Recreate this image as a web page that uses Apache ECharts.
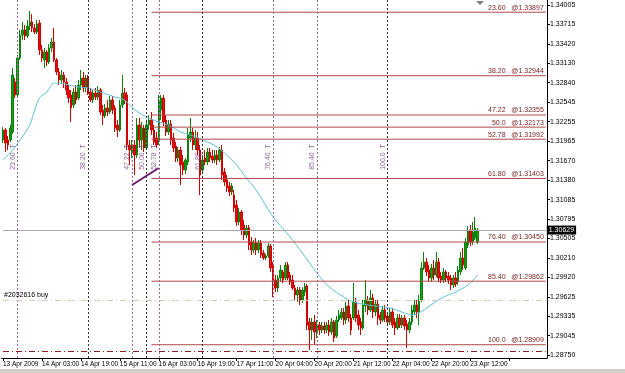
<!DOCTYPE html>
<html><head><meta charset="utf-8">
<script src="https://cdn.jsdelivr.net/npm/echarts@6/dist/echarts.min.js"></script>
<style>html,body{margin:0;padding:0;background:#fff}#c{width:625px;height:373px}</style>
</head><body><div id="c"></div>
<script>
// ---------- data ----------
const xTickLabels = ["13 Apr 2009","14 Apr 03:00","14 Apr 19:00","15 Apr 11:00","16 Apr 03:00","16 Apr 19:00","17 Apr 11:00","20 Apr 04:00","20 Apr 20:00","21 Apr 12:00","22 Apr 04:00","22 Apr 20:00","23 Apr 12:00"];
const yTickLabels = [1.34005,1.33715,1.33420,1.33130,1.32840,1.32545,1.32255,1.31965,1.31670,1.31380,1.31085,1.30795,1.30505,1.30210,1.29920,1.29625,1.29335,1.29045,1.28750];

const opens = [
1.31980,1.32130,1.31980,1.31980,1.32100,1.32850,1.32655,1.33210,1.33555,1.33630,
1.33540,1.33690,1.33750,1.33660,1.33600,1.33735,1.33330,1.33180,1.33300,1.33150,
1.33360,1.33450,1.33180,1.33000,1.32880,1.32955,1.32850,1.32730,1.32655,1.32505,
1.32700,1.32610,1.32805,1.32910,1.32760,1.32910,1.32700,1.32580,1.32685,1.32625,
1.32730,1.32430,1.32340,1.32460,1.32400,1.32580,1.32460,1.32205,1.32130,1.32505,
1.32685,1.32655,1.31905,1.31800,1.31905,1.31755,1.32205,1.31980,1.32160,1.31860,
1.32205,1.32280,1.32130,1.32010,1.31980,1.32430,1.32610,1.32280,1.32100,1.32220,
1.32010,1.31890,1.31710,1.31830,1.31650,1.31530,1.31650,1.32010,1.32100,1.31905,
1.32010,1.31830,1.31530,1.31710,1.31650,1.31800,1.31740,1.31680,1.31755,1.31680,
1.31830,1.31500,1.31380,1.31290,1.31200,1.31155,1.31005,1.30750,1.30900,1.30705,
1.30555,1.30660,1.30450,1.30330,1.30435,1.30330,1.30435,1.30285,1.30210,1.30240,
1.30390,1.30105,1.29880,1.29760,1.29910,1.30000,1.29910,1.30105,1.29955,1.29880,
1.29760,1.29655,1.29730,1.29580,1.29700,1.29790,1.29250,1.29130,1.29250,1.29100,
1.29205,1.29130,1.29190,1.29130,1.29205,1.29100,1.29250,1.29040,1.29280,1.29310,
1.29400,1.29280,1.29490,1.29310,1.29310,1.29550,1.29355,1.29250,1.29160,1.29490,
1.29580,1.29430,1.29610,1.29400,1.29520,1.29355,1.29280,1.29430,1.29340,1.29250,
1.29400,1.29250,1.29160,1.29310,1.29205,1.29310,1.29220,1.29130,1.29250,1.29400,
1.29505,1.29400,1.29580,1.30060,1.30150,1.30030,1.29910,1.30060,1.29955,1.30150,
1.29940,1.29880,1.30000,1.29940,1.29910,1.29805,1.29910,1.29850,1.30000,1.30210,
1.30060,1.30405,1.30630,1.30450,1.30510,1.30450];
const closes = [
1.32130,1.31935,1.31905,1.32160,1.32955,1.32655,1.33210,1.33555,1.33630,1.33540,
1.33690,1.33750,1.33660,1.33600,1.33720,1.33330,1.33210,1.33300,1.33150,1.33360,
1.33450,1.33180,1.33000,1.32880,1.32955,1.32850,1.32730,1.32610,1.32460,1.32700,
1.32580,1.32805,1.32910,1.32760,1.32910,1.32700,1.32580,1.32685,1.32625,1.32730,
1.32400,1.32340,1.32460,1.32400,1.32580,1.32430,1.32160,1.32130,1.32505,1.32685,
1.32580,1.31905,1.31830,1.31905,1.31755,1.32205,1.31980,1.32160,1.31860,1.32205,
1.32280,1.32130,1.31950,1.31905,1.32580,1.32610,1.32250,1.32100,1.32220,1.31980,
1.31860,1.31710,1.31830,1.31605,1.31530,1.31680,1.32055,1.32100,1.31905,1.32010,
1.31830,1.31455,1.31680,1.31650,1.31800,1.31710,1.31680,1.31755,1.31680,1.31830,
1.31455,1.31350,1.31260,1.31200,1.31290,1.30960,1.30750,1.30900,1.30630,1.30555,
1.30660,1.30405,1.30330,1.30435,1.30330,1.30435,1.30255,1.30210,1.30240,1.30390,
1.30060,1.29850,1.29760,1.29910,1.30030,1.29880,1.30105,1.29910,1.29850,1.29760,
1.29655,1.29730,1.29580,1.29730,1.29790,1.29205,1.29130,1.29250,1.29100,1.29205,
1.29130,1.29190,1.29130,1.29205,1.29100,1.29250,1.29010,1.29280,1.29355,1.29400,
1.29280,1.29490,1.29310,1.29130,1.29550,1.29310,1.29205,1.29160,1.29505,1.29580,
1.29430,1.29610,1.29400,1.29520,1.29310,1.29280,1.29430,1.29310,1.29250,1.29400,
1.29205,1.29160,1.29310,1.29205,1.29310,1.29190,1.29130,1.29250,1.29430,1.29505,
1.29400,1.29580,1.30060,1.30150,1.30000,1.29910,1.30060,1.29955,1.30150,1.29910,
1.29880,1.30000,1.29910,1.29880,1.29805,1.29910,1.29820,1.30030,1.30210,1.30105,
1.30450,1.30630,1.30450,1.30600,1.30660,1.30629];
const lows = [
1.31935,1.31800,1.31830,1.31950,1.32070,1.32610,1.32625,1.33180,1.33480,1.33480,
1.33510,1.33630,1.33600,1.33570,1.33570,1.33255,1.33150,1.33060,1.33090,1.33120,
1.33300,1.33150,1.32955,1.32805,1.32820,1.32760,1.32655,1.32535,1.32250,1.32460,
1.32520,1.32580,1.32730,1.32700,1.32700,1.32655,1.32550,1.32535,1.32580,1.32580,
1.32355,1.32205,1.32310,1.32340,1.32370,1.32370,1.32100,1.32025,1.32100,1.32460,
1.32520,1.31830,1.31605,1.31710,1.31455,1.31710,1.31860,1.31830,1.31800,1.31830,
1.32130,1.32055,1.31905,1.31860,1.31905,1.32280,1.32190,1.32040,1.32055,1.31905,
1.31800,1.31650,1.31650,1.31305,1.31455,1.31470,1.31605,1.31950,1.31830,1.31830,
1.31755,1.31155,1.31500,1.31605,1.31605,1.31650,1.31635,1.31635,1.31605,1.31650,
1.31380,1.31290,1.31200,1.31140,1.31155,1.30900,1.30690,1.30705,1.30555,1.30480,
1.30510,1.30330,1.30255,1.30285,1.30255,1.30285,1.30210,1.30180,1.30180,1.30210,
1.30000,1.29625,1.29700,1.29700,1.29850,1.29835,1.29880,1.29880,1.29805,1.29730,
1.29580,1.29550,1.29505,1.29535,1.29640,1.29130,1.28830,1.28980,1.28905,1.29010,
1.29055,1.29085,1.29070,1.29085,1.29040,1.29055,1.28950,1.29010,1.29250,1.29280,
1.29205,1.29220,1.29250,1.29055,1.29280,1.29250,1.29130,1.29055,1.29130,1.29400,
1.29355,1.29400,1.29310,1.29340,1.29205,1.29220,1.29250,1.29250,1.29190,1.29205,
1.29160,1.29055,1.29130,1.29160,1.29160,1.29130,1.28860,1.29085,1.29205,1.29355,
1.29310,1.29205,1.29550,1.30030,1.29940,1.29850,1.29850,1.29880,1.29925,1.29850,
1.29835,1.29835,1.29850,1.29820,1.29730,1.29760,1.29775,1.29805,1.29955,1.30030,
1.30030,1.30360,1.30390,1.30405,1.30480,1.30420];
const highs = [
1.32175,1.32160,1.32040,1.32205,1.33060,1.32910,1.33255,1.33630,1.33750,1.33705,
1.33780,1.33915,1.33870,1.33720,1.33780,1.33780,1.33405,1.33360,1.33330,1.33420,
1.33510,1.33660,1.33210,1.33060,1.33030,1.33000,1.32910,1.32805,1.32730,1.32760,
1.32805,1.32880,1.33030,1.33000,1.32955,1.32955,1.32760,1.32730,1.32760,1.32790,
1.32760,1.32505,1.32520,1.32580,1.32640,1.32640,1.32505,1.32280,1.32580,1.32955,
1.32760,1.32700,1.31980,1.31980,1.31980,1.32310,1.32310,1.32250,1.32205,1.32280,
1.32355,1.32400,1.32205,1.32100,1.32655,1.32655,1.32655,1.32355,1.32280,1.32280,
1.32085,1.31950,1.31875,1.31875,1.31755,1.31710,1.32160,1.32310,1.32160,1.32130,
1.32100,1.31905,1.31755,1.31830,1.31860,1.31860,1.31830,1.31830,1.31830,1.31875,
1.31905,1.31560,1.31455,1.31350,1.31335,1.31230,1.31080,1.30960,1.30930,1.30780,
1.30705,1.30705,1.30525,1.30480,1.30510,1.30480,1.30480,1.30330,1.30270,1.30435,
1.30420,1.30150,1.29955,1.29955,1.30105,1.30030,1.30150,1.30150,1.30000,1.29955,
1.29805,1.29775,1.29775,1.29775,1.29835,1.29820,1.29310,1.29310,1.29355,1.29280,
1.29250,1.29250,1.29250,1.29250,1.29280,1.29310,1.29280,1.29340,1.29430,1.29460,
1.29460,1.29550,1.29580,1.29370,1.29835,1.29610,1.29430,1.29310,1.29580,1.29880,
1.29640,1.29730,1.29670,1.29580,1.29580,1.29400,1.29490,1.29505,1.29400,1.29460,
1.29460,1.29310,1.29370,1.29370,1.29355,1.29355,1.29280,1.29310,1.29505,1.29580,
1.29580,1.29655,1.30150,1.30300,1.30210,1.30105,1.30120,1.30180,1.30300,1.30210,
1.30000,1.30060,1.30030,1.30000,1.29955,1.29955,1.30000,1.30090,1.30300,1.30360,
1.30510,1.30690,1.30705,1.30750,1.30825,1.30660];

// moving average, read at bar positions [barIndex, price]
const maIndex = [0,4,7,11,13,15,18,21,24,27,31,35,40,46,50,52,56,60,64,68,73,77,82,88,94,96,100,104,111,118,123,129,134,140,144,150,159,165,168,170,173,177,181,186,191,195];
const maValue = [1.31680,1.31830,1.31980,1.32205,1.32430,1.32610,1.32700,1.32835,1.32835,1.32805,1.32775,1.32760,1.32700,1.32625,1.32580,1.32505,1.32385,1.32310,1.32250,1.32205,1.32100,1.32055,1.31980,1.31875,1.31680,1.31605,1.31410,1.31230,1.30825,1.30525,1.30285,1.29985,1.29775,1.29625,1.29550,1.29505,1.29460,1.29385,1.29355,1.29370,1.29430,1.29535,1.29625,1.29700,1.29805,1.29955];

// fibonacci retracement levels
const fibNames  = ["23.60","38.20","47.22","50.0","52.78","61.80","76.40","85.40","100.0"];
const fibPrices = [1.33897,1.32944,1.32355,1.32173,1.31992,1.31403,1.30450,1.29862,1.28909];
const fibStartBar = 61;
// fibonacci time zones
const timeNames = ["23.60","38.20","47.22","50.00","52.78","61.80","76.40","85.40","100.0"];
const timeBars  = [6,35,53,58.5,64,82,111,129,158];
const timeDark  = [false,true,false,true,false,true,false,false,true];
// other lines
const bidPrice = 1.30629;
const orderPrice = 1.29580;
const orderText = "#2032616 buy";
const stopPrice = 1.28815;
const trendBars = [53,64];
const trendPrices = [1.31305,1.31560];

const totalSlots = 224;

// ---------- build ----------
const cats = Array.from({length: totalSlots}, (_, i) => String(i));
const candles = opens.map((o, i) => [o, closes[i], lows[i], highs[i]]);
const maData = maIndex.map((b, i) => [b, maValue[i]]);
const lastBar = totalSlots - 1;
const FONT = 'Liberation Sans';
const fibLine = '#b04848';
const fibText = '#7a2424';

// one line series per fibonacci level, drawn through the axes
const fibSeries = fibNames.map((n, k) => ({
  type: 'line', name: 'fib' + n, silent: true, z: 4,
  data: [[fibStartBar, fibPrices[k]], [lastBar, fibPrices[k]]],
  showSymbol: false, symbol: 'none',
  lineStyle: {color: fibLine, width: 1, type: 'solid'},
  endLabel: {show: true, formatter: n + '   @' + fibPrices[k].toFixed(5), color: fibText, fontSize: 7, fontFamily: FONT,
    align: 'right', verticalAlign: 'bottom', offset: [-2, -1], distance: 0}
}));

function seg(a, b, style, label) {
  return [
    {coord: a, lineStyle: style, label: label || {show: false}},
    {coord: b, lineStyle: style, label: label || {show: false}}
  ];
}

const markData = [];
timeBars.forEach((b, k) => {
  markData.push({xAxis: b, lineStyle: {color: timeDark[k] ? '#3a303a' : '#9a6a9a', width: 1, type: [2, 2], opacity: 1}, label: {show: false}});
});
markData.push(seg([0, bidPrice], [lastBar, bidPrice], {color: '#a8a8a8', width: 1, type: 'solid', opacity: 1},
  {show: true, position: 'end', formatter: bidPrice.toFixed(5), color: '#fff', backgroundColor: '#000', fontSize: 7, fontFamily: FONT, padding: [1, 2], distance: 1}));
markData.push(seg([0, orderPrice], [lastBar, orderPrice], {color: '#cfcfb8', width: 1, type: [6, 3, 1, 3], opacity: 1},
  {show: true, position: 'insideStartTop', formatter: orderText, color: '#000', fontSize: 7, fontFamily: FONT, distance: 1}));
markData.push(seg([0, stopPrice], [lastBar, stopPrice], {color: '#8b2020', width: 1, type: [6, 3, 1, 3], opacity: 1}));
markData.push(seg([trendBars[0], trendPrices[0]], [trendBars[1], trendPrices[1]], {color: '#6a1a6a', width: 2, type: 'solid', opacity: 1}));

const timeLabelData = timeBars.map((b, k) => ({value: [b - 1.6, 1.31725], name: timeNames[k]}));

const chart = echarts.init(document.getElementById('c'), null, {renderer: 'canvas'});
chart.setOption({
  animation: false,
  backgroundColor: '#ffffff',
  grid: {left: 0, right: 78, top: 0, bottom: 15, containLabel: false},
  xAxis: {
    type: 'category', data: cats, boundaryGap: true,
    axisLine: {show: true, lineStyle: {color: '#000', width: 1}},
    axisTick: {show: true, alignWithLabel: true, length: 3, interval: (i) => i % 16 === 0, lineStyle: {color: '#000'}},
    axisLabel: {show: true, interval: (i) => i % 16 === 0, align: 'left', margin: 3, fontSize: 6.5, fontFamily: FONT, color: '#000',
      formatter: (v, i) => (i % 16 === 0 && xTickLabels[i / 16]) ? xTickLabels[i / 16] : ''},
    splitLine: {show: false}
  },
  yAxis: {
    type: 'value', position: 'right', min: 1.28710, max: 1.34080, scale: true,
    axisLine: {show: true, lineStyle: {color: '#000', width: 1}},
    axisTick: {show: true, length: 3, customValues: yTickLabels, lineStyle: {color: '#000'}},
    axisLabel: {show: true, customValues: yTickLabels, margin: 3, fontSize: 7, fontFamily: FONT, color: '#000', formatter: (v) => v.toFixed(5)},
    splitLine: {show: false}
  },
  series: [
    {
      type: 'candlestick', data: candles, barWidth: 2, z: 2,
      itemStyle: {color: '#10a010', color0: '#e01010', borderColor: '#108010', borderColor0: '#d00000', borderWidth: 1}
    },
    {
      type: 'line', data: maData, showSymbol: false, symbol: 'none', smooth: 0.3,
      lineStyle: {color: '#5fc0d8', width: 1}, z: 3,
      markLine: {symbol: 'none', silent: true, animation: false, data: markData}
    },
    {
      type: 'scatter', data: timeLabelData, symbolSize: 0, silent: true,
      label: {show: true, position: 'inside', rotate: 90, formatter: (p) => p.name + '  T', color: '#6a3a7a', fontSize: 7, fontFamily: FONT}
    }
  ].concat(fibSeries),
  graphic: [
    {type: 'rect', shape: {x: 0, y: 369, width: 625, height: 4}, style: {fill: '#d4d0c8'}},
    {type: 'polygon', shape: {points: [[476, 1], [484, 1], [480, 5]]}, style: {fill: '#808080'}}
  ]
});
</script>
</body></html>
